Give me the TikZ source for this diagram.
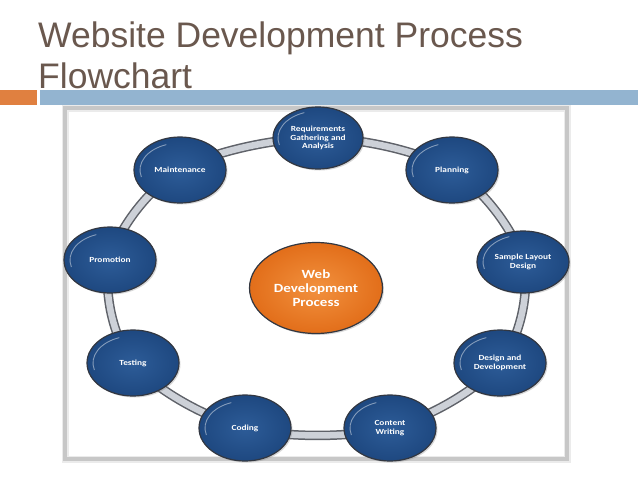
\documentclass[tikz,border=0pt]{standalone}
\usepackage{fontspec}
\setmainfont{Liberation Sans}
\newfontfamily\nodefont[FakeStretch=1.2]{Carlito}
\usetikzlibrary{shapes.geometric,shadows,backgrounds}
\definecolor{titlecol}{RGB}{106,88,78}
\definecolor{orangebar}{RGB}{224,128,64}
\definecolor{bluebar}{RGB}{147,180,208}
\definecolor{nodeblue}{RGB}{30,72,128}
\definecolor{nodeblueL}{RGB}{45,92,152}
\definecolor{nodeedge}{RGB}{50,55,65}
\definecolor{ringedge}{RGB}{95,98,105}
\definecolor{ringfill}{RGB}{205,209,216}
\definecolor{orangeL}{RGB}{242,145,62}
\definecolor{orangeD}{RGB}{226,110,26}
\tikzset{
  titletext/.style={anchor=base west, inner sep=0pt, text=titlecol, font=\fontsize{35.5}{40}\selectfont},
  bnode/.style={ellipse, minimum width=92pt, minimum height=66pt, inner sep=0pt,
    inner color=nodeblueL, outer color=nodeblue, draw=nodeedge, line width=1.2pt,
    text=white, align=center, font=\nodefont\bfseries\fontsize{7.8}{8.6}\selectfont,
    drop shadow={opacity=0.3, shadow xshift=1.5pt, shadow yshift=-1.5pt},
    path picture={\draw[white, opacity=0.45, line width=0.9pt]
      ([shift={(110:40pt and 27pt)}]path picture bounding box.center)
      arc[start angle=110, end angle=195, x radius=40pt, y radius=27pt];}},
  cnode/.style={ellipse, minimum width=133pt, minimum height=91pt, inner sep=0pt,
    inner color=orangeL, outer color=orangeD, draw=nodeedge, line width=1.2pt,
    text=white, align=center, font=\nodefont\bfseries\fontsize{12.5}{14}\selectfont,
    drop shadow={opacity=0.3, shadow xshift=1.5pt, shadow yshift=-1.5pt}}
}
\begin{document}
\begin{tikzpicture}[x=1pt,y=-1pt]
\useasboundingbox (0,0) rectangle (638,479);
% title
\node[titletext] (t1) at (38,47) {Website Development Process};
\node[titletext] (t2) at (38,88) {Flowchart};
\fill[orangebar] (0,90) rectangle (37,105);
\fill[bluebar] (40,90) rectangle (638,105);
% nodes
\node[cnode] (cen) at (316,288) {Web\\Development\\Process};
\node[bnode, minimum width=90pt, minimum height=62pt] (req) at (318,138) {Requirements\\Gathering and\\Analysis};
\node[bnode] (plan) at (452,170) {Planning};
\node[bnode, minimum height=62pt] (sample) at (523,262) {Sample Layout\\Design};
\node[bnode] (design) at (500,363) {Design and\\Development};
\node[bnode] (content) at (390,428) {Content\\Writing};
\node[bnode] (coding) at (245,428) {Coding};
\node[bnode] (testing) at (133,363) {Testing};
\node[bnode] (promo) at (110,260) {Promotion};
\node[bnode] (maint) at (180,170) {Maintenance};
\begin{scope}[on background layer]
  \fill[white] (0,0) rectangle (638,479);
  \draw[black!8, line width=7pt] (65,108) rectangle (567,459);
  \draw[black!22, line width=3.5pt] (65,108) rectangle (567,459);
  \draw[ringedge, line width=9.5pt] plot[smooth cycle, tension=0.55] coordinates
    {(req) (plan) (sample) (design) (content) (coding) (testing) (promo) (maint)};
  \draw[ringfill, line width=6.5pt] plot[smooth cycle, tension=0.55] coordinates
    {(req) (plan) (sample) (design) (content) (coding) (testing) (promo) (maint)};
\end{scope}
\end{tikzpicture}
\end{document}
